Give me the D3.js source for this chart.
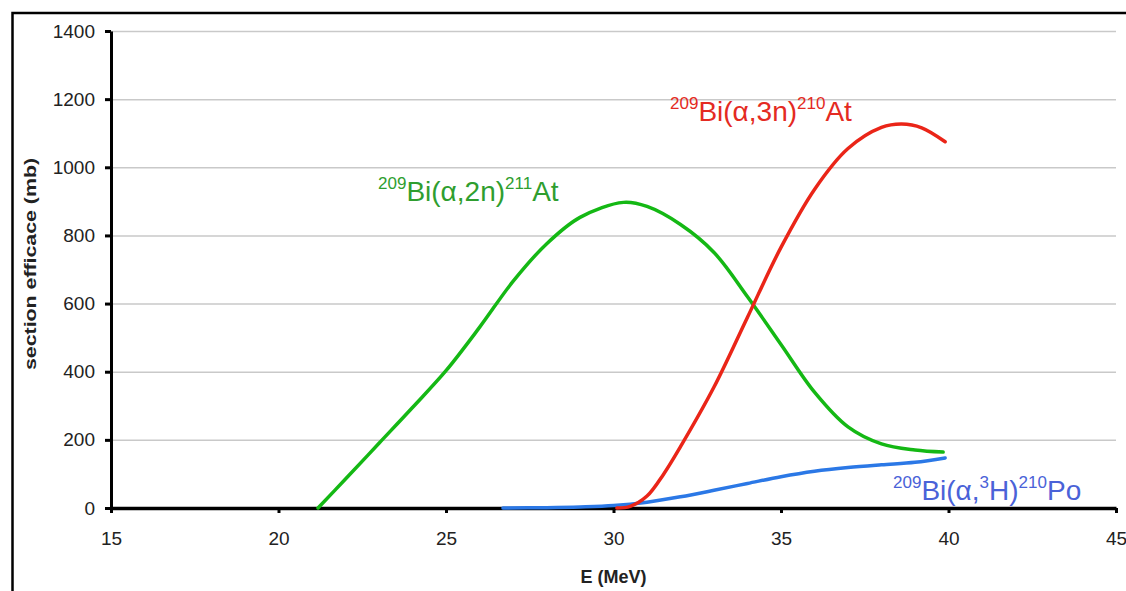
<!DOCTYPE html>
<html>
<head>
<meta charset="utf-8">
<script src="https://cdn.jsdelivr.net/npm/d3@7"></script>
<style>
  body { margin: 0; background: #fff; }
  svg { display: block; font-family: "Liberation Sans", Arial, sans-serif; }
</style>
</head>
<body>
<div id="chart"></div>
<script>
// values (E in MeV, cross section in mb)
var xTicks = [15, 20, 25, 30, 35, 40, 45];
var yTicks = [0, 200, 400, 600, 800, 1000, 1200, 1400];

var energy2n = [21.18, 22, 23, 24, 25, 26, 27, 28, 29, 30.3, 31, 32, 33, 34, 35, 36, 37, 38, 39, 39.84];
var sigma2n  = [0, 85, 190, 295, 403, 530, 665, 775, 853, 897, 885, 832, 750, 620, 480, 340, 238, 188, 170, 164];

var energy3n = [30.1, 30.5, 31, 31.5, 32, 33, 34, 35, 36, 37, 38, 38.6, 39.2, 39.9];
var sigma3n  = [0, 5, 35, 100, 180, 355, 560, 765, 935, 1055, 1117, 1127, 1116, 1075];

var energy3H = [26.7, 28, 29, 30, 31, 32, 33, 34, 35, 36, 37, 38, 39, 39.9];
var sigma3H  = [0, 1, 3, 7, 17, 33, 52, 72, 92, 108, 119, 127, 134, 147];

var svgWidth = 1126;
var svgHeight = 591;

var margin = { top: 31, left: 111, right: 10, bottom: 83 };
var width = svgWidth - margin.left - margin.right;   // 1005
var height = svgHeight - margin.top - margin.bottom; // 477

var svg = d3.select("#chart")
  .append("svg")
  .attr("width", svgWidth)
  .attr("height", svgHeight);

// outer frame (only left and top edges show)
svg.append("rect")
  .attr("x", 12.5)
  .attr("y", 13)
  .attr("width", 1300)
  .attr("height", 800)
  .attr("fill", "none")
  .attr("stroke", "#000")
  .attr("stroke-width", 2.5);

var chartGroup = svg.append("g")
  .attr("transform", `translate(${margin.left}, ${margin.top})`);

var xscale = d3.scaleLinear().domain([15, 45]).range([0, width]);
var yscale = d3.scaleLinear().domain([0, 1400]).range([height, 0]);

// gridlines
chartGroup.append("g")
  .call(d3.axisLeft(yscale).tickValues(yTicks.slice(1)).tickSize(-width).tickFormat(""))
  .call(g => g.select(".domain").remove())
  .call(g => g.selectAll("line").attr("stroke", "#c9c9c9").attr("stroke-width", 1.5));

// y axis
var yAxisG = chartGroup.append("g")
  .call(d3.axisLeft(yscale).tickValues(yTicks).tickFormat(d3.format("d"))
    .tickSize(6).tickSizeOuter(0).tickPadding(10))
  .call(g => g.select(".domain").attr("stroke-width", 3))
  .call(g => g.selectAll(".tick line").attr("stroke-width", 3));

// x axis
var xAxisG = chartGroup.append("g")
  .attr("transform", `translate(0, ${height})`)
  .call(d3.axisBottom(xscale).tickValues(xTicks).tickSize(5).tickSizeOuter(0).tickPadding(19))
  .call(g => g.select(".domain").attr("stroke-width", 3.5))
  .call(g => g.selectAll(".tick line").attr("stroke-width", 3));

[yAxisG, xAxisG].forEach(function(g) {
  g.attr("font-family", null).attr("font-size", 19);
  g.selectAll(".tick text").attr("fill", "#222");
});

// curves
var line = d3.line()
  .x(d => xscale(d[0]))
  .y(d => yscale(d[1]))
  .curve(d3.curveCatmullRom.alpha(0.5));

var series = [
  { e: energy3H, s: sigma3H, color: "#2b78e6" },
  { e: energy2n, s: sigma2n, color: "#14b814" },
  { e: energy3n, s: sigma3n, color: "#ea2518" }
];

series.forEach(function(d) {
  chartGroup.append("path")
    .datum(d3.zip(d.e, d.s))
    .attr("fill", "none")
    .attr("stroke", d.color)
    .attr("stroke-width", 3.5)
    .attr("stroke-linecap", "round")
    .attr("d", line);
});

// reaction labels with superscripts
function reactionLabel(x, y, color, parts) {
  var t = svg.append("text")
    .attr("x", x)
    .attr("y", y)
    .attr("fill", color);
  var up = false;
  parts.forEach(function(p) {
    var sup = p[1];
    var ts = t.append("tspan").text(p[0]).attr("font-size", sup ? 17 : 28);
    if (sup && !up) { ts.attr("dy", -12); up = true; }
    else if (!sup && up) { ts.attr("dy", 12); up = false; }
  });
}

reactionLabel(670, 121, "#e42a22", [["209", 1], ["Bi(\u03b1,3n)", 0], ["210", 1], ["At", 0]]);
reactionLabel(378, 201, "#2f9e2f", [["209", 1], ["Bi(\u03b1,2n)", 0], ["211", 1], ["At", 0]]);
reactionLabel(893, 500, "#4a62d8", [["209", 1], ["Bi(\u03b1,", 0], ["3", 1], ["H)", 0], ["210", 1], ["Po", 0]]);

// axis titles
svg.append("text")
  .attr("x", margin.left + width / 2)
  .attr("y", 583)
  .attr("text-anchor", "middle")
  .attr("font-weight", "bold")
  .attr("font-size", 18)
  .attr("fill", "#222")
  .text("E (MeV)");

svg.append("text")
  .attr("transform", "translate(36, 264) rotate(-90)")
  .attr("text-anchor", "middle")
  .attr("font-weight", "bold")
  .attr("font-size", 17)
  .attr("fill", "#222")
  .attr("textLength", 212)
  .attr("lengthAdjust", "spacingAndGlyphs")
  .text("section efficace (mb)");
</script>
</body>
</html>
